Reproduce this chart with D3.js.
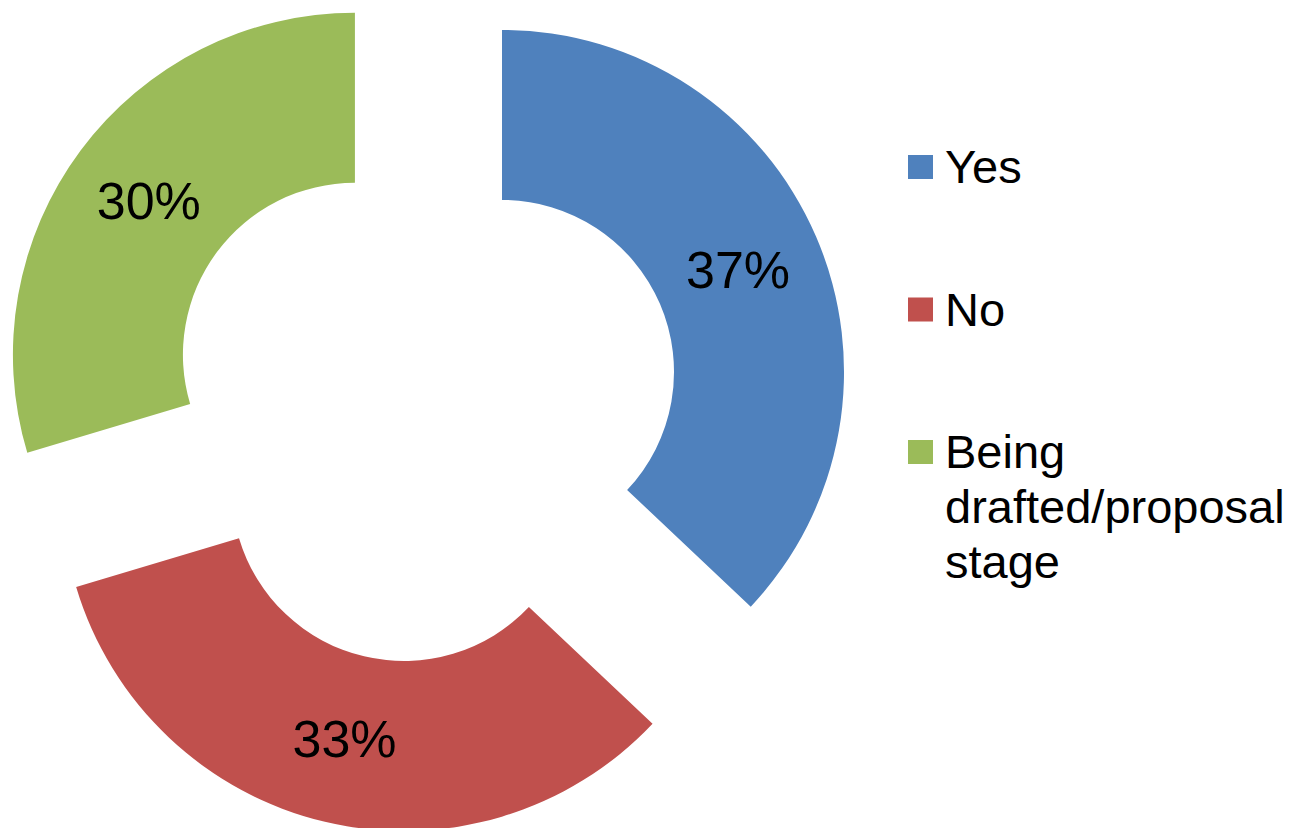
<!DOCTYPE html>
<html lang="en">
    <head>
        <meta charset="utf-8">
        <title>Exploded donut</title>
        <style>
            body { margin: 0; background: white; }
            svg { display: block; }
            text { font-family: "Liberation Sans", Arial, sans-serif; fill: black; }
        </style>
    </head>
    <body>
        <svg width="1292" height="828"></svg>
        <script src="https://d3js.org/d3.v7.min.js"></script>
        <script>
            // responses per answer (10/27, 9/27, 8/27)
            var categories = ["Yes", "No", "Being drafted/proposal stage"];
            var counts = [10, 9, 8];
            var legendLines = [["Yes"], ["No"], ["Being", "drafted/proposal", "stage"]];
            var colors = ["#4F81BD", "#C0504D", "#9BBB59"];

            var svg = d3.select("svg"),
                cx = 423.5, cy = 405.8,
                outerR = 342, innerR = 172,
                explode = 0.25 * outerR;

            var total = d3.sum(counts);
            var pie = d3.pie().sort(null).value(function(d){ return d; });
            var arc = d3.arc().innerRadius(innerR).outerRadius(outerR);
            var color = d3.scaleOrdinal().domain(categories).range(colors);

            var slices = svg.append("g").selectAll("g")
                .data(pie(counts)).enter()
                .append("g")
                .attr("transform", function(d) {
                    var a = (d.startAngle + d.endAngle) / 2;
                    return "translate(" + (cx + explode * Math.sin(a)) + "," + (cy - explode * Math.cos(a)) + ")";
                });

            slices.append("path")
                .attr("d", arc)
                .style("fill", function(d, i){ return color(categories[i]); });

            slices.append("text")
                .attr("transform", function(d){ return "translate(" + arc.centroid(d) + ")"; })
                .attr("text-anchor", "middle")
                .attr("dy", "0.35em")
                .style("font-size", "52px")
                .text(function(d){ return Math.round(d.value / total * 100) + "%"; });

            // legend
            var legendY = d3.scalePoint().domain(categories).range([167, 452]);
            var legend = svg.append("g").selectAll("g")
                .data(categories).enter()
                .append("g")
                .attr("transform", function(d){ return "translate(908," + legendY(d) + ")"; });

            legend.append("rect")
                .attr("y", -12)
                .attr("width", 25)
                .attr("height", 24)
                .style("fill", function(d){ return color(d); });

            legend.append("text")
                .attr("x", 37)
                .attr("y", 16)
                .style("font-size", "47px")
                .selectAll("tspan")
                .data(function(d, i){ return legendLines[i]; }).enter()
                .append("tspan")
                .attr("x", 37)
                .attr("dy", function(d, i){ return i ? 55 : 0; })
                .text(function(d){ return d; });
        </script>
    </body>
</html>
